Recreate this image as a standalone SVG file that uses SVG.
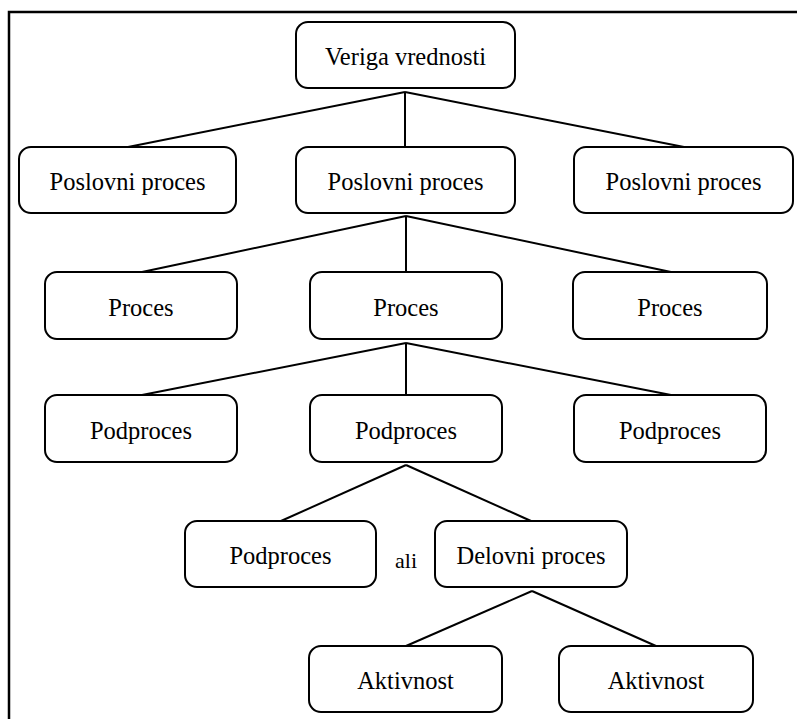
<svg xmlns="http://www.w3.org/2000/svg" width="797" height="719" viewBox="0 0 797 719">
<style>
.n rect{fill:#fff;stroke:#000;stroke-width:2}
.n text,.lbl{font-family:"Liberation Serif","Times New Roman",serif;font-size:24.5px;fill:#000;text-anchor:middle}
.lbl{font-size:22px}
#edges line{stroke:#000;stroke-width:2}
</style>
<rect width="797" height="719" fill="#fff"/>
<path d="M9,719 V12 H797" fill="none" stroke="#000" stroke-width="2.5"/>
<g id="edges">
<line x1="405" y1="92" x2="128" y2="147"/>
<line x1="405" y1="92" x2="405" y2="147"/>
<line x1="405" y1="92" x2="684" y2="147"/>
<line x1="406" y1="216" x2="142" y2="272"/>
<line x1="406" y1="216" x2="406" y2="272"/>
<line x1="406" y1="216" x2="671" y2="272"/>
<line x1="406" y1="343" x2="142" y2="395"/>
<line x1="406" y1="343" x2="406" y2="395"/>
<line x1="406" y1="343" x2="671" y2="395"/>
<line x1="406" y1="465" x2="281" y2="521"/>
<line x1="406" y1="465" x2="531" y2="521"/>
<line x1="532" y1="591" x2="406" y2="646"/>
<line x1="532" y1="591" x2="656" y2="646"/>
</g>
<g id="n_veriga" class="n"><rect x="296" y="22" width="219" height="66" rx="12"/><text x="405.5" y="65">Veriga vrednosti</text></g>
<g id="n_pp1" class="n"><rect x="19" y="147" width="217" height="66" rx="12"/><text x="127.5" y="190">Poslovni proces</text></g>
<g id="n_pp2" class="n"><rect x="296" y="147" width="219" height="66" rx="12"/><text x="405.5" y="190">Poslovni proces</text></g>
<g id="n_pp3" class="n"><rect x="574" y="147" width="219" height="66" rx="12"/><text x="683.5" y="190">Poslovni proces</text></g>
<g id="n_p1" class="n"><rect x="45" y="272" width="192" height="67" rx="12"/><text x="141" y="316">Proces</text></g>
<g id="n_p2" class="n"><rect x="310" y="272" width="192" height="67" rx="12"/><text x="406" y="316">Proces</text></g>
<g id="n_p3" class="n"><rect x="573" y="272" width="194" height="67" rx="12"/><text x="670" y="316">Proces</text></g>
<g id="n_sp1" class="n"><rect x="45" y="395" width="192" height="67" rx="12"/><text x="141" y="439">Podproces</text></g>
<g id="n_sp2" class="n"><rect x="310" y="395" width="192" height="67" rx="12"/><text x="406" y="439">Podproces</text></g>
<g id="n_sp3" class="n"><rect x="574" y="395" width="192" height="67" rx="12"/><text x="670" y="439">Podproces</text></g>
<g id="n_sp4" class="n"><rect x="185" y="521" width="191" height="66" rx="12"/><text x="280.5" y="564">Podproces</text></g>
<text class="lbl" x="406" y="568">ali</text>
<g id="n_dp" class="n"><rect x="435" y="521" width="192" height="66" rx="12"/><text x="531" y="564">Delovni proces</text></g>
<g id="n_a1" class="n"><rect x="309" y="646" width="193" height="66" rx="12"/><text x="405.5" y="689">Aktivnost</text></g>
<g id="n_a2" class="n"><rect x="559" y="646" width="194" height="66" rx="12"/><text x="656" y="689">Aktivnost</text></g>
</svg>
